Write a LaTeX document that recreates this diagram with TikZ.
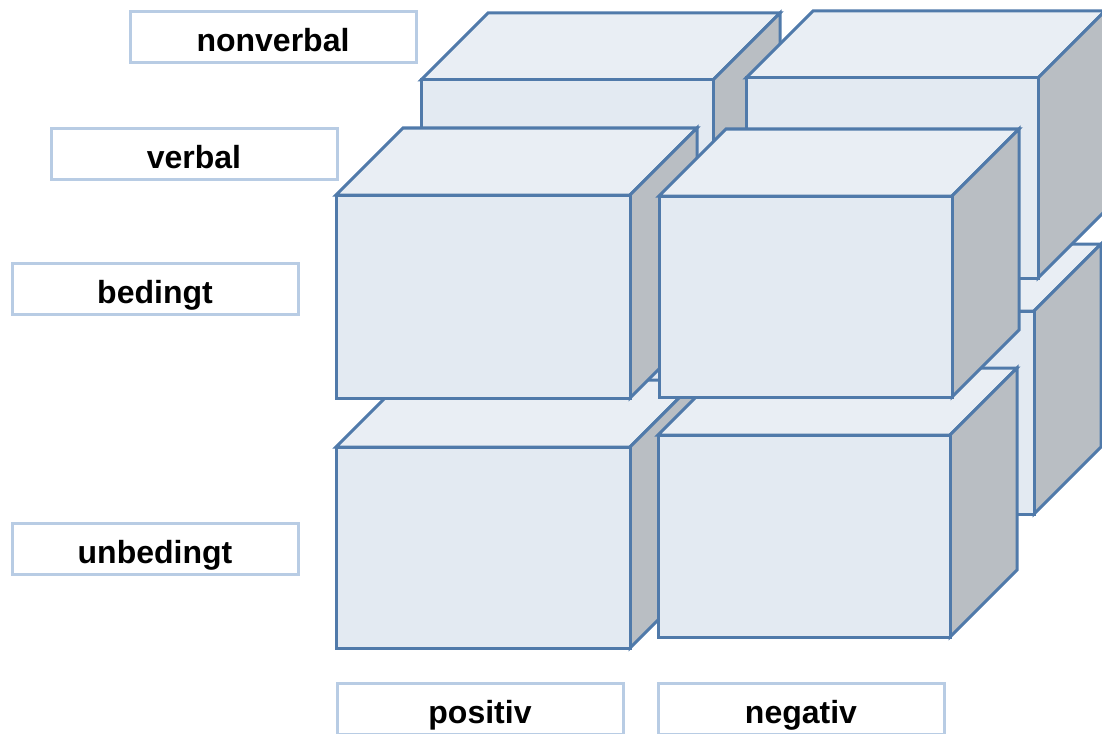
\documentclass[tikz,border=0pt]{standalone}
\usepackage{fontspec}
\setmainfont{Liberation Sans}
\definecolor{cubeedge}{RGB}{80,122,170}
\definecolor{cubefront}{RGB}{227,234,242}
\definecolor{cubetop}{RGB}{233,238,244}
\definecolor{cubeside}{RGB}{185,190,195}
\definecolor{labeledge}{RGB}{184,204,228}
% \drawcube{x}{y}{w}{h}: front face with top-left corner (x,y), width w, height h;
% top and right side recede by \cubedepth up and to the right.
\newcommand\cubedepth{67}
\newcommand\drawcube[4]{%
  \path[cubeface,fill=cubetop]
    (#1,#2) -- ++(\cubedepth,-\cubedepth) -- ++(#3,0) -- ++(-\cubedepth,\cubedepth) -- cycle;
  \path[cubeface,fill=cubeside]
    (#1+#3,#2) -- ++(\cubedepth,-\cubedepth) -- ++(0,#4) -- ++(-\cubedepth,\cubedepth) -- cycle;
  \path[cubeface,fill=cubefront] (#1,#2) rectangle ++(#3,#4);
}
\begin{document}
\begin{tikzpicture}[x=1pt,y=-1pt,
  cubeface/.style={draw=cubeedge,line width=3pt,line join=miter},
  axislabel/.style={draw=labeledge,line width=3pt,fill=white,rectangle,
    minimum width=286pt,minimum height=51pt,inner sep=0pt,
    text height=29pt,text depth=0pt,
    font=\bfseries\fontsize{32}{36}\selectfont,text=black}]
\useasboundingbox (0,0) rectangle (1102,733);
\clip (0,0) rectangle (1102,733);

% back layer (nonverbal): lower row first, then upper row
\drawcube{421}{311}{292}{203}
\drawcube{742}{311}{292}{203}
\drawcube{421}{80}{292}{201}
\drawcube{746}{78}{292}{200}

% front layer (verbal)
\drawcube{336}{447}{294}{201}
\drawcube{658}{435}{292}{202}
\drawcube{336}{195}{294}{203}
\drawcube{659}{196}{293}{201}

% axis labels
\node[axislabel] (nonverbal) at (273,37)  {nonverbal};
\node[axislabel] (verbal)    at (194,154) {verbal};
\node[axislabel] (bedingt)   at (155,289) {bedingt};
\node[axislabel] (unbedingt) at (155,549) {unbedingt};
\node[axislabel] (positiv)   at (480,709) {positiv};
\node[axislabel] (negativ)   at (801,709) {negativ};
\end{tikzpicture}
\end{document}
